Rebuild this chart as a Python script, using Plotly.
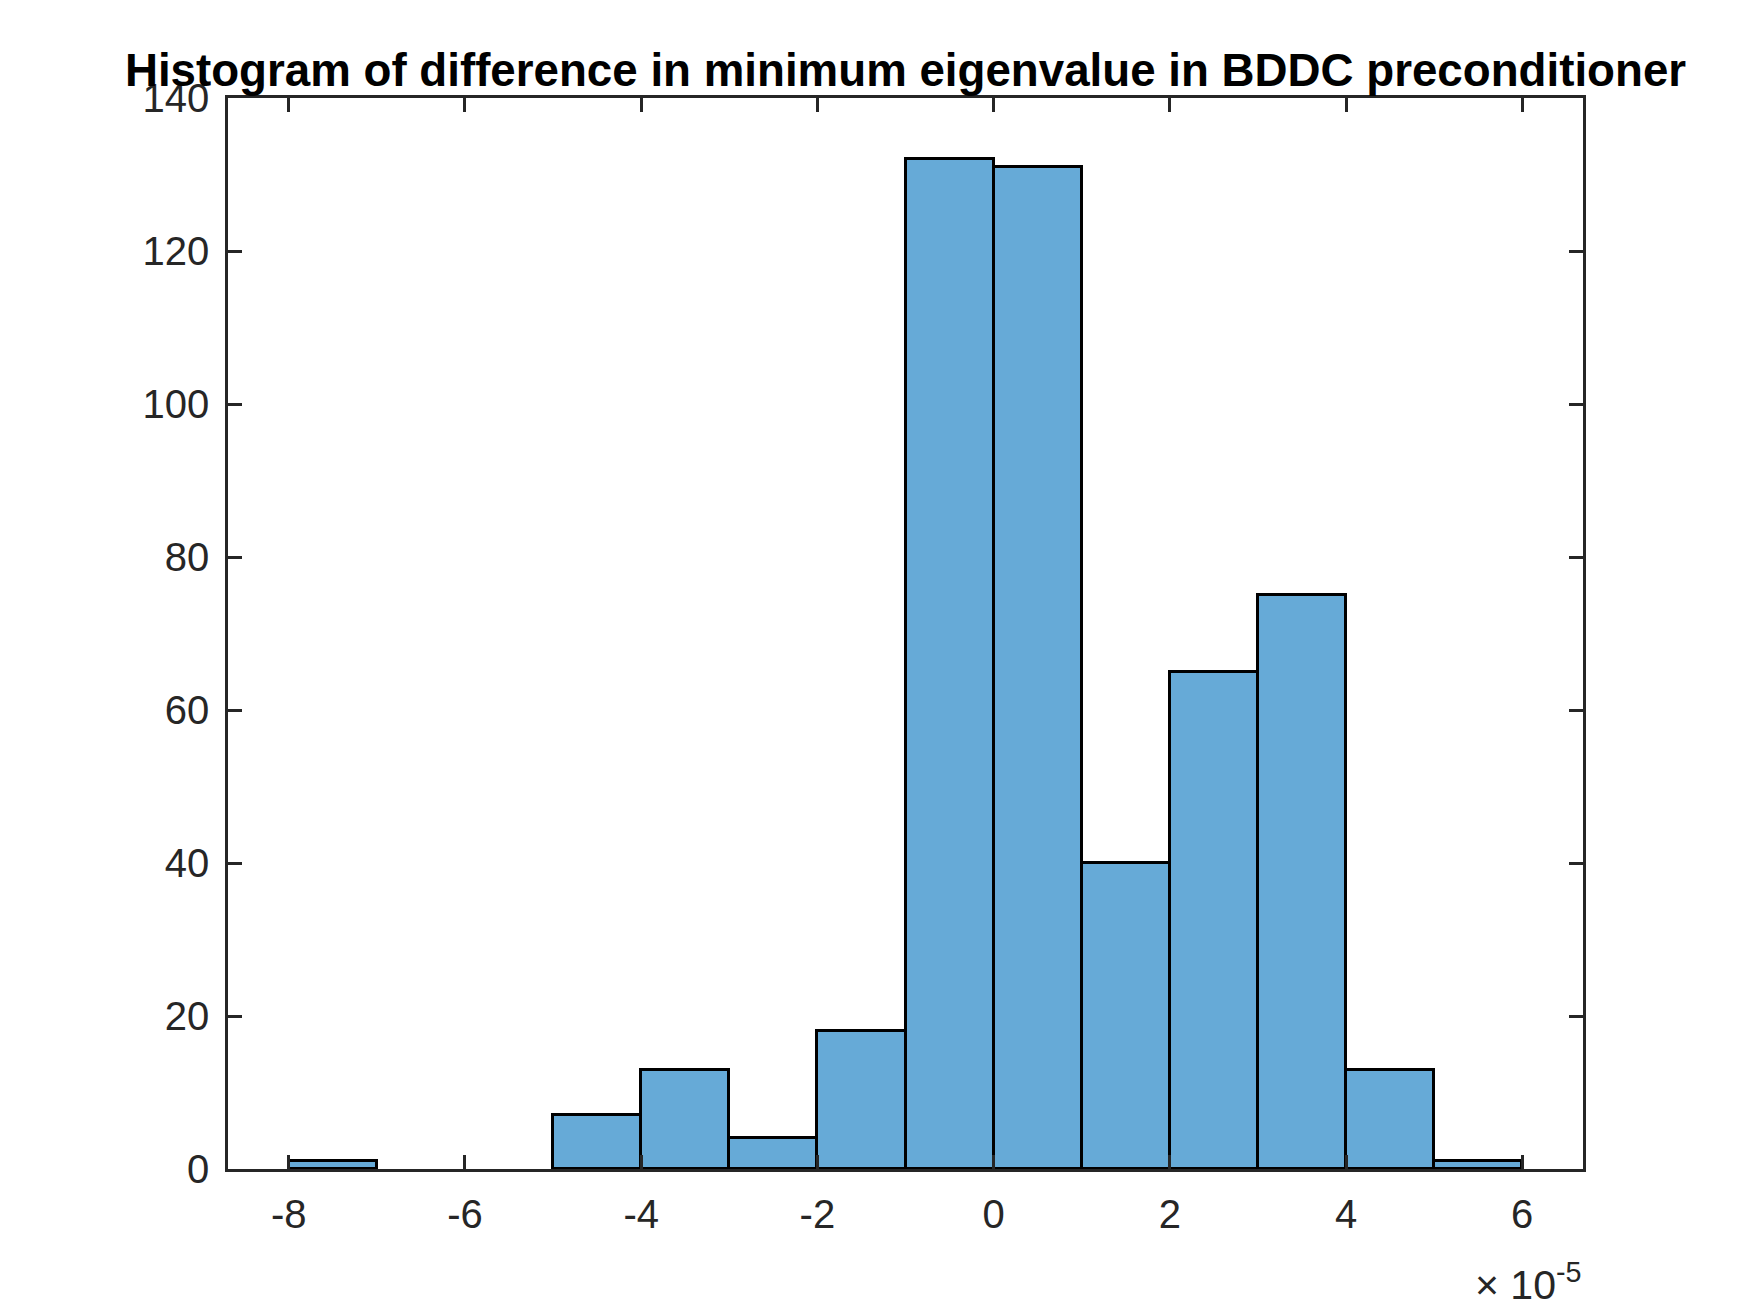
import numpy as np
import plotly.graph_objects as go

# bin edges in units of 1e-5, counts per bin
bin_edges = [-8, -7, -6, -5, -4, -3, -2, -1, 0, 1, 2, 3, 4, 5, 6]
counts = [1, 0, 0, 7, 13, 4, 18, 132, 131, 40, 65, 75, 13, 1]
x_ticks = [-8, -6, -4, -2, 0, 2, 4, 6]
y_ticks = [0, 20, 40, 60, 80, 100, 120, 140]

edges = np.array(bin_edges, dtype=float)
centers = (edges[:-1] + edges[1:]) / 2
widths = np.diff(edges)
cnt = np.array(counts)
keep = cnt > 0  # empty bins draw nothing

axis_col = '#262626'
fig = go.Figure()
fig.add_trace(go.Bar(x=centers[keep], y=cnt[keep], width=widths[keep],
                     marker=dict(color='rgb(102,170,215)',
                                 line=dict(color='black', width=3)),
                     showlegend=False))

# page body has an 8px margin, so the figure is trimmed by that much
fig.update_layout(
    width=1742, height=1305,
    margin=dict(l=220, r=167, t=90, b=144),
    paper_bgcolor='white', plot_bgcolor='white',
    bargap=0,
    font=dict(family='Liberation Sans, Arial, sans-serif', size=40, color=axis_col),
    title=dict(text='<b>Histogram of difference in minimum eigenvalue in BDDC preconditioner</b>',
               x=0.5, xref='paper', xanchor='center',
               y=1 - 78 / 1305, yref='container', yanchor='bottom',
               font=dict(family='Liberation Sans, Arial, sans-serif', size=45.7, color='black')),
)
fig.update_xaxes(range=[-8.69, 6.69], tickvals=x_ticks, ticktext=[str(v) for v in x_ticks],
                 showline=True, linecolor=axis_col, linewidth=2.5, mirror='ticks',
                 ticks='inside', ticklen=14, tickwidth=2.5, tickcolor=axis_col,
                 showgrid=False, zeroline=False, ticklabelstandoff=8)
fig.update_yaxes(range=[0, 140], tickvals=y_ticks,
                 showline=True, linecolor=axis_col, linewidth=2.5, mirror='ticks',
                 ticks='inside', ticklen=14, tickwidth=2.5, tickcolor=axis_col,
                 showgrid=False, zeroline=False, ticklabelstandoff=8)
fig.add_annotation(text='× 10<sup>-5</sup>', xref='paper', yref='paper',
                   x=1.0, y=-0.132, xanchor='right', yanchor='bottom', showarrow=False,
                   font=dict(family='Liberation Sans, Arial, sans-serif', size=41, color=axis_col))

fig.write_html("out.html")
